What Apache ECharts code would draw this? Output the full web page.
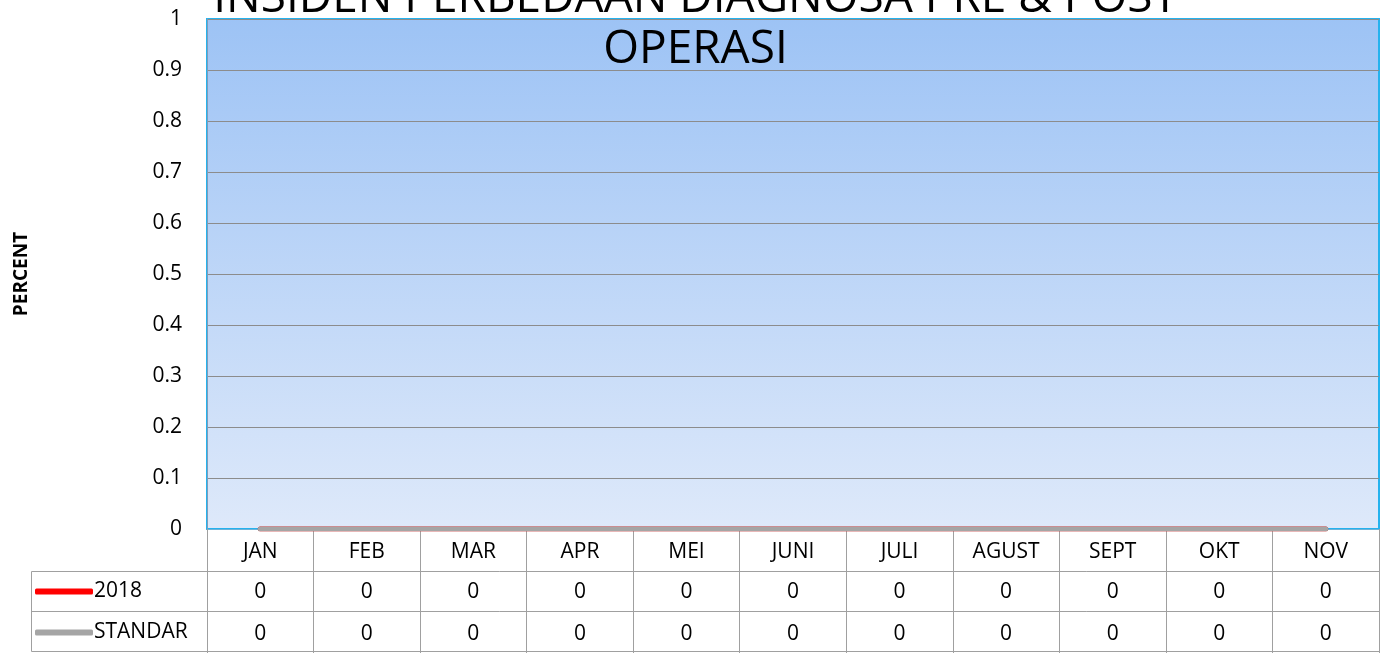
<!DOCTYPE html>
<html>
<head>
<meta charset="utf-8">
<script src="https://cdn.jsdelivr.net/npm/echarts@6/dist/echarts.min.js"></script>
<style>
  html, body { margin: 0; padding: 0; background: #fff; }
  #chart { width: 1391px; height: 653px; }
</style>
</head>
<body>
<div id="chart"></div>
<script>
// 데이터
const months = ['JAN', 'FEB', 'MAR', 'APR', 'MEI', 'JUNI', 'JULI', 'AGUST', 'SEPT', 'OKT', 'NOV']
const data2018 = [0, 0, 0, 0, 0, 0, 0, 0, 0, 0, 0]
const dataStandar = [0, 0, 0, 0, 0, 0, 0, 0, 0, 0, 0]
const yTicks = [0, 0.1, 0.2, 0.3, 0.4, 0.5, 0.6, 0.7, 0.8, 0.9, 1]

const FONT = 'Open Sans'
const GRID_LINE = '#8C8C8C'
const TABLE_LINE = '#A0A0A0'

const chart = echarts.init(document.getElementById('chart'))

// 표 아래 행 (값 표시용 축)
const valueAxis = (values, offset, margin) => ({
  type: 'category',
  data: months,
  position: 'bottom',
  offset: offset,
  axisLine: { show: true, lineStyle: { color: TABLE_LINE, width: 1 } },
  axisTick: { show: false },
  axisLabel: {
    color: '#000',
    fontFamily: FONT,
    fontSize: 21,
    margin: margin,
    formatter: (v, i) => String(values[i]),
  },
})

const option = {
  animation: false,
  title: {
    text: 'INSIDEN PERBEDAAN DIAGNOSA PRE & POST\nOPERASI',
    left: 'center',
    top: -32,
    textStyle: {
      color: '#000',
      fontFamily: FONT,
      fontSize: 46,
      fontWeight: 'normal',
      lineHeight: 51,
    },
  },
  legend: {
    orient: 'vertical',
    left: 35,
    top: 578,
    padding: 0,
    itemGap: 14,
    itemWidth: 58,
    itemHeight: 6,
    icon: 'roundRect',
    selectedMode: false,
    textStyle: { color: '#000', fontFamily: FONT, fontSize: 21, padding: [0, 0, 0, -4], lineHeight: 27 },
    data: ['2018', 'STANDAR'],
  },
  grid: {
    left: 207,
    right: 12,
    top: 19,
    bottom: 124,
    show: true,
    borderColor: '#25B2EE',
    borderWidth: 2,
    backgroundColor: new echarts.graphic.LinearGradient(0, 0, 0, 1, [
      { offset: 0, color: '#9DC3F5' },
      { offset: 1, color: '#DEE9FA' },
    ]),
  },
  xAxis: [
    {
      type: 'category',
      data: months,
      position: 'bottom',
      axisLine: { show: true, lineStyle: { color: '#6FB3D8', width: 1 } },
      axisTick: {
        show: true,
        length: 124,
        lineStyle: { color: TABLE_LINE, width: 1 },
      },
      axisLabel: { color: '#000', fontFamily: FONT, fontSize: 21, margin: 13 },
    },
    valueAxis(data2018, 42, 11),
    valueAxis(dataStandar, 82, 13),
  ],
  yAxis: {
    type: 'value',
    min: yTicks[0],
    max: yTicks[yTicks.length - 1],
    interval: 0.1,
    name: 'PERCENT',
    nameLocation: 'middle',
    nameGap: 176,
    nameTextStyle: { color: '#000', fontFamily: FONT, fontSize: 19, fontWeight: 'bold' },
    axisLine: { show: true, lineStyle: { color: '#7F9DB9' } },
    axisTick: { show: false },
    axisLabel: { color: '#000', fontFamily: FONT, fontSize: 21, margin: 25 },
    splitLine: { lineStyle: { color: GRID_LINE, width: 1 } },
  },
  series: [
    {
      name: '2018',
      type: 'line',
      data: data2018,
      showSymbol: false,
      lineStyle: { color: '#FF0000', width: 5, cap: 'round' },
      itemStyle: { color: '#FF0000' },
    },
    {
      name: 'STANDAR',
      type: 'line',
      data: dataStandar,
      showSymbol: false,
      lineStyle: { color: '#A5A5A5', width: 5, cap: 'round' },
      itemStyle: { color: '#A5A5A5' },
    },
  ],
  graphic: [
    // 왼쪽 범례 칸 테두리
    {
      type: 'rect',
      shape: { x: 31.5, y: 571.5, width: 176, height: 80 },
      style: { fill: 'none', stroke: TABLE_LINE, lineWidth: 1 },
      silent: true,
    },
    {
      type: 'line',
      shape: { x1: 31.5, y1: 611.5, x2: 207, y2: 611.5 },
      style: { stroke: TABLE_LINE, lineWidth: 1 },
      silent: true,
    },
    {
      type: 'line',
      shape: { x1: 207, y1: 651.5, x2: 1379, y2: 651.5 },
      style: { stroke: TABLE_LINE, lineWidth: 1 },
      silent: true,
    },
  ],
}

chart.setOption(option)
</script>
</body>
</html>
